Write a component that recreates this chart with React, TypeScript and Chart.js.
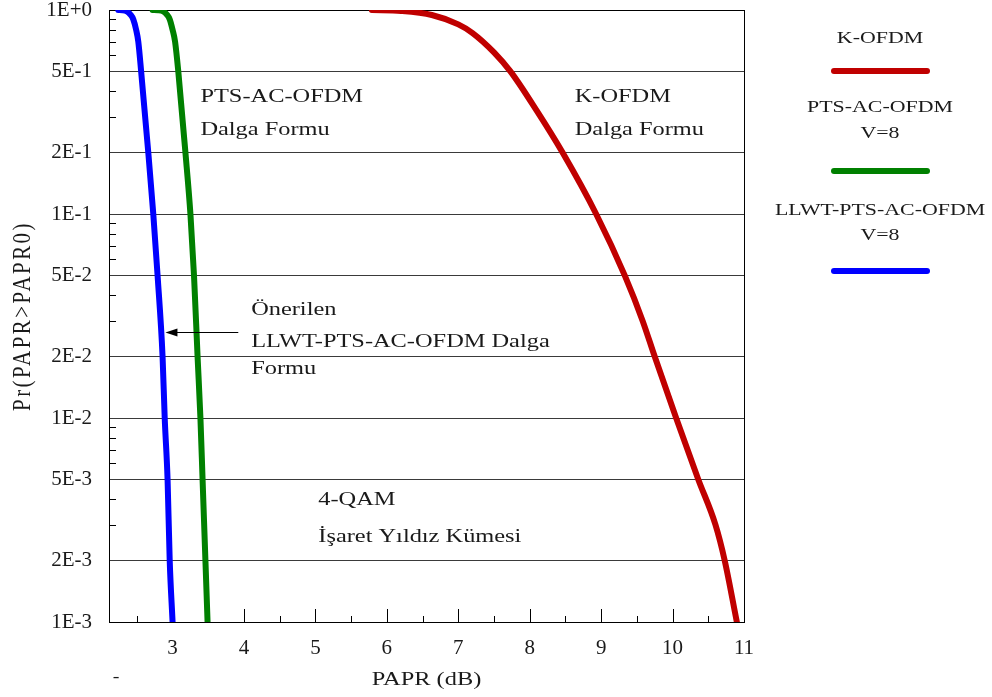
import React, { useEffect, useRef } from "react";
import { Chart, registerables } from "chart.js";

Chart.register(...registerables);

const SERIF = "'Liberation Serif', 'Times New Roman', serif";

// ---- Data (PAPR in dB, CCDF probability) ----
const kOfdmPapr = [5.79, 6.2, 6.63, 7.0, 7.2, 7.5, 7.73, 8.1, 8.46, 8.93, 9.33, 9.58, 9.75, 10.05, 10.36, 10.6, 10.73, 10.9];
const kOfdmProb = [1.0, 0.99, 0.945, 0.85, 0.771, 0.62, 0.5, 0.32, 0.2, 0.1, 0.05, 0.03, 0.02, 0.01, 0.005, 0.003, 0.002, 0.001];

const ptsPapr = [2.72, 2.8, 2.87, 2.92, 2.96, 3.0, 3.035, 3.08, 3.18, 3.25, 3.3, 3.35, 3.39, 3.42, 3.46, 3.49];
const ptsProb = [1.0, 0.998, 0.985, 0.95, 0.9, 0.8, 0.7, 0.5, 0.2, 0.1, 0.05, 0.02, 0.01, 0.005, 0.002, 0.001];

const llwtPapr = [2.24, 2.3, 2.36, 2.41, 2.45, 2.49, 2.52, 2.56, 2.66, 2.73, 2.79, 2.86, 2.89, 2.93, 2.96, 3.0];
const llwtProb = [1.0, 0.998, 0.985, 0.95, 0.9, 0.8, 0.7, 0.5, 0.2, 0.1, 0.05, 0.02, 0.01, 0.005, 0.002, 0.001];

const seriesNames = ["K-OFDM", "PTS-AC-OFDM V=8", "LLWT-PTS-AC-OFDM V=8"];
const seriesColors = ["#C00000", "#008000", "#0000FF"];

// ---- Ticks ----
const xTickValues = [3, 4, 5, 6, 7, 8, 9, 10, 11];
const xMinorTicks = [2.5, 3.5, 4.5, 5.5, 6.5, 7.5, 8.5, 9.5, 10.5];
const yTickValues = [1, 0.5, 0.2, 0.1, 0.05, 0.02, 0.01, 0.005, 0.002, 0.001];
const yTickLabels = ["1E+0", "5E-1", "2E-1", "1E-1", "5E-2", "2E-2", "1E-2", "5E-3", "2E-3", "1E-3"];
const yMinorTicks = [
  0.9, 0.8, 0.7, 0.6, 0.4, 0.3,
  0.09, 0.08, 0.07, 0.06, 0.04, 0.03,
  0.009, 0.008, 0.007, 0.006, 0.004, 0.003,
];

const X_MIN = 2.11;
const X_MAX = 11;

// ---- Annotations (positioned in data coordinates) ----
const annotations = [
  { text: "PTS-AC-OFDM", x: 3.39, y: 0.375 },
  { text: "Dalga Formu", x: 3.39, y: 0.258 },
  { text: "K-OFDM", x: 8.63, y: 0.375 },
  { text: "Dalga Formu", x: 8.63, y: 0.258 },
  { text: "Önerilen", x: 4.1, y: 0.0339 },
  { text: "LLWT-PTS-AC-OFDM Dalga", x: 4.1, y: 0.0236 },
  { text: "Formu", x: 4.1, y: 0.0174 },
  { text: "4-QAM", x: 5.04, y: 0.00396 },
  { text: "İşaret Yıldız Kümesi", x: 5.04, y: 0.00261 },
];
const arrow = { fromX: 3.92, toX: 2.9, y: 0.0264 };

function drawText(
  ctx: CanvasRenderingContext2D,
  text: string,
  x: number,
  y: number,
  size: number,
  align: CanvasTextAlign = "left",
  sx = 1.25,
  spacing = 0
) {
  ctx.save();
  ctx.translate(x, y);
  ctx.scale(sx, 1);
  ctx.font = `${size}px ${SERIF}`;
  (ctx as any).letterSpacing = `${spacing}px`;
  ctx.textAlign = align;
  ctx.textBaseline = "middle";
  ctx.fillStyle = "#1a1a1a";
  ctx.fillText(text, 0, 0);
  ctx.restore();
}

const decorPlugin = {
  id: "decor",
  beforeDatasetsDraw(chart: any) {
    const { ctx, chartArea } = chart;
    const xs = chart.scales.x;
    const ys = chart.scales.y;
    ctx.save();
    ctx.strokeStyle = "#000";
    ctx.lineWidth = 1;
    // frame
    ctx.strokeRect(
      Math.round(chartArea.left) + 0.5,
      Math.round(chartArea.top) + 0.5,
      Math.round(chartArea.right - chartArea.left),
      Math.round(chartArea.bottom - chartArea.top)
    );
    // y minor ticks (inside)
    ctx.beginPath();
    for (const v of yMinorTicks) {
      const py = Math.round(ys.getPixelForValue(v)) + 0.5;
      ctx.moveTo(chartArea.left, py);
      ctx.lineTo(chartArea.left + 7, py);
    }
    // x ticks (inside)
    for (const v of xTickValues) {
      const px = Math.round(xs.getPixelForValue(v)) + 0.5;
      ctx.moveTo(px, chartArea.bottom);
      ctx.lineTo(px, chartArea.bottom - 13);
    }
    for (const v of xMinorTicks) {
      const px = Math.round(xs.getPixelForValue(v)) + 0.5;
      ctx.moveTo(px, chartArea.bottom);
      ctx.lineTo(px, chartArea.bottom - 6);
    }
    ctx.stroke();
    ctx.restore();
  },
  afterDraw(chart: any) {
    const { ctx, chartArea } = chart;
    const xs = chart.scales.x;
    const ys = chart.scales.y;

    // annotations
    for (const a of annotations) {
      drawText(ctx, a.text, xs.getPixelForValue(a.x), ys.getPixelForValue(a.y), 19.5, "left", 1.25, 0);
    }

    // arrow
    const ay = Math.round(ys.getPixelForValue(arrow.y)) + 0.5;
    const ax0 = xs.getPixelForValue(arrow.fromX);
    const ax1 = xs.getPixelForValue(arrow.toX);
    ctx.save();
    ctx.strokeStyle = "#000";
    ctx.fillStyle = "#000";
    ctx.lineWidth = 1;
    ctx.beginPath();
    ctx.moveTo(ax0, ay);
    ctx.lineTo(ax1 + 8, ay);
    ctx.stroke();
    ctx.beginPath();
    ctx.moveTo(ax1, ay);
    ctx.lineTo(ax1 + 12, ay - 4);
    ctx.lineTo(ax1 + 12, ay + 4);
    ctx.closePath();
    ctx.fill();
    ctx.restore();

    // axis titles
    const cx = (chartArea.left + chartArea.right) / 2;
    drawText(ctx, "PAPR (dB)", cx, 680, 19.5, "center", 1.25, 0);
    drawText(ctx, "-", chartArea.left + 7, 678, 16, "center", 1.25, 0);

    ctx.save();
    ctx.translate(23, (chartArea.top + chartArea.bottom) / 2);
    ctx.rotate(-Math.PI / 2);
    ctx.scale(1, 1.2);
    ctx.font = `21px ${SERIF}`;
    (ctx as any).letterSpacing = "2.4px";
    ctx.textAlign = "center";
    ctx.textBaseline = "middle";
    ctx.fillStyle = "#1a1a1a";
    ctx.fillText("Pr(PAPR>PAPR0)", 0, 0);
    ctx.restore();

    // legend
    const lx = 880;
    const legendRows = [
      { lines: ["K-OFDM"], ys: [38], lineY: 71 },
      { lines: ["PTS-AC-OFDM", "V=8"], ys: [107, 133], lineY: 171 },
      { lines: ["LLWT-PTS-AC-OFDM", "V=8"], ys: [210, 235], lineY: 271 },
    ];
    legendRows.forEach((row, i) => {
      row.lines.forEach((t, j) => drawText(ctx, t, lx, row.ys[j], 17.5, "center", 1.25, 0));
      ctx.save();
      ctx.strokeStyle = seriesColors[i];
      ctx.lineWidth = 6;
      ctx.lineCap = "round";
      ctx.beginPath();
      ctx.moveTo(lx - 46, row.lineY);
      ctx.lineTo(lx + 47, row.lineY);
      ctx.stroke();
      ctx.restore();
    });
  },
};

export default function App() {
  const canvasRef = useRef<HTMLCanvasElement | null>(null);

  useEffect(() => {
    if (!canvasRef.current) return;
    const toPts = (xs: number[], ys: number[]) => xs.map((x, i) => ({ x, y: ys[i] }));
    const mk = (label: string, color: string, pts: { x: number; y: number }[]) => ({
      label,
      data: pts,
      borderColor: color,
      backgroundColor: color,
      borderWidth: 6,
      borderCapStyle: "round" as const,
      borderJoinStyle: "round" as const,
      pointRadius: 0,
      fill: false,
      cubicInterpolationMode: "monotone" as const,
    });

    const chart = new Chart(canvasRef.current, {
      type: "line",
      data: {
        datasets: [
          mk(seriesNames[0], seriesColors[0], toPts(kOfdmPapr, kOfdmProb)),
          mk(seriesNames[1], seriesColors[1], toPts(ptsPapr, ptsProb)),
          mk(seriesNames[2], seriesColors[2], toPts(llwtPapr, llwtProb)),
        ],
      },
      options: {
        responsive: false,
        animation: false,
        layout: { padding: { top: 10, right: 248, bottom: 0, left: 0 } },
        plugins: {
          legend: { display: false },
          tooltip: { enabled: false },
        },
        scales: {
          x: {
            type: "linear",
            min: X_MIN,
            max: X_MAX,
            afterBuildTicks: (s: any) => {
              s.ticks = xTickValues.map((v) => ({ value: v }));
            },
            afterFit: (s: any) => {
              s.height = 75;
              s.paddingLeft = 0;
              s.paddingRight = 0;
            },
            grid: { display: false, drawTicks: false },
            border: { display: true, color: "#000", width: 1 },
            ticks: {
              font: { family: SERIF, size: 21 },
              color: "#1a1a1a",
              padding: 14,
              maxRotation: 0,
              autoSkip: false,
              callback: (v: any) => String(v),
            },
          },
          y: {
            type: "logarithmic",
            min: 0.001,
            max: 1,
            afterBuildTicks: (s: any) => {
              s.ticks = yTickValues.map((v) => ({ value: v }));
            },
            afterFit: (s: any) => {
              s.width = 109;
              s.paddingTop = 0;
              s.paddingBottom = 0;
            },
            grid: { color: "#3a3a3a", lineWidth: 1, drawTicks: false },
            border: { display: true, color: "#000", width: 1 },
            ticks: {
              font: { family: SERIF, size: 21 },
              color: "#1a1a1a",
              padding: 17,
              autoSkip: false,
              callback: (v: any) => {
                const idx = yTickValues.findIndex((t) => Math.abs(t - Number(v)) / t < 1e-6);
                return idx >= 0 ? yTickLabels[idx] : "";
              },
            },
          },
        },
      },
      plugins: [decorPlugin],
    });
    return () => chart.destroy();
  }, []);

  return (
    <div style={{ position: "absolute", left: 0, top: 0, width: 992, height: 697, background: "#fff" }}>
      <canvas ref={canvasRef} width={992} height={697} style={{ display: "block" }} />
    </div>
  );
}
